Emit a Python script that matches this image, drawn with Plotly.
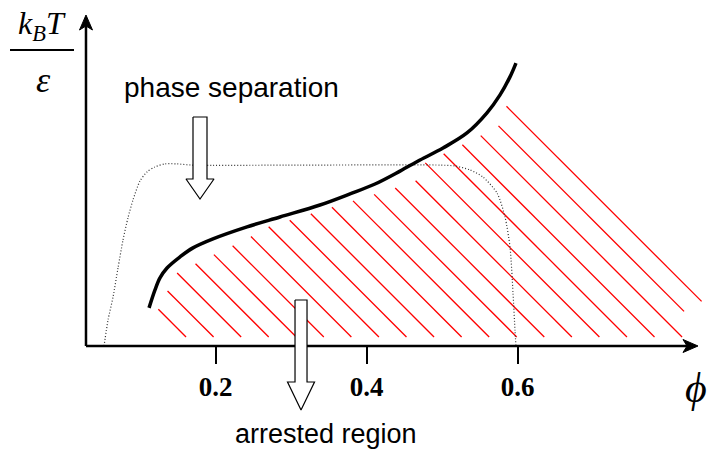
import plotly.graph_objects as go

W, H = 710, 450

# ---------------- data (phi, k_B T / epsilon in arbitrary units) ----------------
X_RANGE = [-0.0857, 0.8547]
Y_RANGE = [-0.3467, 1.1533]

tick_vals = [0.2, 0.4, 0.6]
tick_text = ["0.2", "0.4", "0.6"]

# arrest (glass) line – thick black
arrest_phi = [0.1117, 0.1196, 0.1262, 0.1355, 0.1527, 0.1699, 0.1964, 0.2415, 0.2852,
              0.3381, 0.3779, 0.4110, 0.4441, 0.4706, 0.5011, 0.5328, 0.5593, 0.5766,
              0.5898, 0.5977]
arrest_T = [0.127, 0.187, 0.227, 0.260, 0.297, 0.327, 0.357, 0.397, 0.430,
            0.470, 0.507, 0.540, 0.583, 0.620, 0.660, 0.710, 0.777, 0.837,
            0.897, 0.943]

# phase-separation boundary – dotted
coex_phi = [0.0521, 0.0574, 0.0640, 0.0706, 0.0772, 0.0838, 0.0905, 0.0997, 0.1090,
            0.1196, 0.1328, 0.1487, 0.1686, 0.3117, 0.4971, 0.5170, 0.5368, 0.5541,
            0.5726, 0.5832, 0.5898, 0.5938, 0.5964, 0.5977]
coex_T = [0.000, 0.087, 0.163, 0.260, 0.353, 0.427, 0.487, 0.550, 0.580,
          0.597, 0.607, 0.607, 0.603, 0.603, 0.603, 0.600, 0.587, 0.563,
          0.510, 0.430, 0.330, 0.177, 0.053, 0.000]

# arrested (hatched) region outline
region_phi = [0.1236, 0.1236, 0.1355, 0.1487, 0.1726, 0.1964, 0.2216, 0.2454, 0.2693,
              0.4640, 0.4772, 0.5011, 0.5262, 0.5501, 0.5739, 0.5858, 0.8468, 0.8203,
              0.8203]
region_T = [0.030, 0.120, 0.180, 0.243, 0.273, 0.303, 0.333, 0.363, 0.397,
            0.547, 0.610, 0.640, 0.670, 0.700, 0.730, 0.803, 0.153, 0.117,
            0.030]
hatch_first_phi = 0.1607   # where the first hatch line meets T = 0.03
hatch_base_T = 0.030
hatch_step = 0.0365
hatch_count = 21

axis_origin = (0.0282, 0.0)
x_axis_end = 0.8388
y_axis_end = 1.1033

# block arrows: (phi, top T, tip T)
phase_arrow = (0.1792, 0.7633, 0.490)
arrest_arrow = (0.3130, 0.1533, -0.2133)

# ---------------- scale helpers ----------------
sx = W / (X_RANGE[1] - X_RANGE[0])   # px per unit phi
sy = H / (Y_RANGE[1] - Y_RANGE[0])   # px per unit T


def hatch_segments():
    pu = [p * sx for p in region_phi]
    pv = [t * sy for t in region_T]
    n = len(pu)
    xs, ys = [], []
    for k in range(hatch_count):
        d = (hatch_first_phi + k * hatch_step) * sx + hatch_base_T * sy
        hits = []
        for i in range(n):
            u1, v1, u2, v2 = pu[i], pv[i], pu[(i + 1) % n], pv[(i + 1) % n]
            f1, f2 = u1 + v1 - d, u2 + v2 - d
            if (f1 > 0) != (f2 > 0):
                r = f1 / (f1 - f2)
                hits.append((u1 + r * (u2 - u1), v1 + r * (v2 - v1)))
        hits.sort()
        for j in range(0, len(hits) - 1, 2):
            (ua, va), (ub, vb) = hits[j], hits[j + 1]
            xs += [ua / sx, ub / sx, None]
            ys += [va / sy, vb / sy, None]
    return xs, ys


def block_arrow(phi, top, tip, shaft_half, head_half, head_len):
    dx_s, dx_h = shaft_half / sx, head_half / sx
    base = tip + head_len / sy
    xs = [phi - dx_s, phi + dx_s, phi + dx_s, phi + dx_h, phi, phi - dx_h, phi - dx_s, phi - dx_s]
    ys = [top, top, base, base, tip, base, base, top]
    return xs, ys


def arrow_head(x, y, direction, length=15, half=6.5, notch=4):
    if direction == "right":
        pts = [(0, 0), (-length, half), (-length + notch, 0), (-length, -half), (0, 0)]
        return [x + a / sx for a, b in pts], [y + b / sy for a, b in pts]
    pts = [(0, 0), (half, -length), (0, -length + notch), (-half, -length), (0, 0)]
    return [x + a / sx for a, b in pts], [y + b / sy for a, b in pts]


fig = go.Figure()

hx, hy = hatch_segments()
fig.add_trace(go.Scatter(x=hx, y=hy, mode="lines",
                         line=dict(color="#ff0000", width=1.3), hoverinfo="skip"))

fig.add_trace(go.Scatter(x=coex_phi, y=coex_T, mode="lines",
                         line=dict(color="#333333", width=1.2, dash="1px,2px",
                                   shape="spline", smoothing=0.7),
                         hoverinfo="skip"))

fig.add_trace(go.Scatter(x=arrest_phi, y=arrest_T, mode="lines",
                         line=dict(color="black", width=3.5, shape="spline"),
                         hoverinfo="skip"))

# axes
fig.add_trace(go.Scatter(x=[axis_origin[0], x_axis_end - 10 / sx], y=[0, 0], mode="lines",
                         line=dict(color="black", width=2.5), hoverinfo="skip"))
fig.add_trace(go.Scatter(x=[axis_origin[0], axis_origin[0]], y=[0, y_axis_end - 10 / sy],
                         mode="lines", line=dict(color="black", width=2.5), hoverinfo="skip"))
ax_, ay_ = arrow_head(x_axis_end, 0, "right")
fig.add_trace(go.Scatter(x=ax_, y=ay_, mode="lines", fill="toself", fillcolor="black",
                         line=dict(color="black", width=1), hoverinfo="skip"))
ax_, ay_ = arrow_head(axis_origin[0], y_axis_end, "up")
fig.add_trace(go.Scatter(x=ax_, y=ay_, mode="lines", fill="toself", fillcolor="black",
                         line=dict(color="black", width=1), hoverinfo="skip"))

# block arrows
for (phi, top, tip), (sh, hh, hl) in [(phase_arrow, (7, 14, 20)), (arrest_arrow, (6, 13.5, 28))]:
    bx, by = block_arrow(phi, top, tip, sh, hh, hl)
    fig.add_trace(go.Scatter(x=bx, y=by, mode="lines", fill="toself", fillcolor="white",
                             line=dict(color="black", width=1.2), hoverinfo="skip"))


def P(px, py):
    return px / W, 1 - py / H


annos = []
for text, (px, py), size, fam in [
    ("<i>k</i><sub><i>B</i></sub><i>T</i>", (42, 25), 32, "Liberation Serif"),
    ("<i>ε</i>", (43, 80), 36, "Liberation Serif"),
    ("<i>ϕ</i>", (696, 388), 42, "Liberation Serif"),
    ("phase separation", (231, 87), 28, "Liberation Sans"),
    ("arrested region", (326, 434), 27, "Liberation Sans"),
]:
    x, y = P(px, py)
    annos.append(dict(x=x, y=y, xref="paper", yref="paper", text=text, showarrow=False,
                      xanchor="center", yanchor="middle",
                      font=dict(family=fam, size=size, color="black")))

fx1, fy1 = P(10, 50)
fx2, _ = P(74, 50)

fig.update_layout(
    width=W, height=H,
    margin=dict(l=0, r=0, t=0, b=0),
    paper_bgcolor="white", plot_bgcolor="white",
    showlegend=False, hovermode=False,
    xaxis=dict(range=X_RANGE, domain=[0, 1], anchor="free", position=104 / H,
               showgrid=False, zeroline=False, showline=False,
               ticks="outside", ticklen=17, tickwidth=1.5, tickcolor="black",
               tickvals=tick_vals, ticktext=tick_text,
               tickfont=dict(family="Liberation Serif", size=27, color="black", weight="bold")),
    yaxis=dict(range=Y_RANGE, domain=[0, 1], visible=False),
    annotations=annos,
    shapes=[dict(type="line", xref="paper", yref="paper", x0=fx1, x1=fx2, y0=fy1, y1=fy1,
                 line=dict(color="black", width=2))],
)

fig.write_html("out.html")
